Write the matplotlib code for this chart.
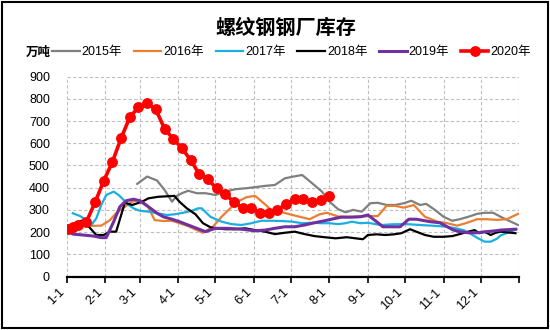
import matplotlib
matplotlib.use("Agg")
import matplotlib.pyplot as plt
from matplotlib.patches import Rectangle

plt.rcParams['font.family'] = ['Liberation Sans', 'Noto Sans CJK SC']

# 横轴：一年中的第几天（1月1日=0）
month_days = [0, 31, 59, 90, 120, 151, 181, 212, 243, 273, 304, 334, 365]
month_labels = ['1-1', '2-1', '3-1', '4-1', '5-1', '6-1', '7-1', '8-1',
                '9-1', '10-1', '11-1', '12-1', '']

# 2015年
d2015 = [57, 65, 73, 79, 85, 89, 93, 98, 105, 112, 120, 128, 136, 144, 152, 160,
         168, 176, 183, 190, 198, 206, 212, 219, 225, 231, 238, 245, 251, 258,
         265, 272, 278, 285, 290, 297, 304, 311, 317, 324, 331, 337, 344, 350, 364]
v2015 = [417, 450, 432, 390, 337, 363, 375, 386, 375, 375, 367, 382, 393, 397, 402, 408,
         412, 442, 450, 457, 420, 382, 337, 303, 289, 300, 292, 330, 332, 322,
         322, 330, 341, 322, 327, 300, 269, 251, 258, 269, 282, 287, 287, 269, 232]

# 2016年
d2016 = [0, 12, 19, 28, 35, 40, 47, 53, 59, 65, 69, 71, 78, 85, 91, 98, 105, 110,
         118, 125, 132, 138, 145, 152, 159, 165, 172, 180, 188, 196, 204, 210, 219,
         231, 245, 251, 258, 265, 272, 280, 289, 299, 307, 315, 323, 331, 339, 347,
         355, 364]
v2016 = [224, 232, 228, 229, 254, 285, 314, 337, 345, 322, 277, 254, 250, 251, 240, 227, 209, 197,
         224, 269, 307, 337, 357, 363, 330, 300, 292, 280, 269, 258, 280, 287, 270,
         269, 272, 272, 318, 318, 310, 322, 269, 247, 240, 229, 242, 258, 258, 255,
         258, 282]

# 2017年
d2017 = [5, 11, 16, 20, 24, 28, 32, 38, 42, 46, 50, 54, 59, 66, 73, 81, 87, 94, 101,
         106, 109, 116, 125, 133, 141, 149, 157, 165, 173, 182, 190, 198, 206, 212,
         219, 225, 230, 237, 243, 250, 255, 262, 274, 285, 297, 305, 313, 320, 325,
         331, 337, 342, 347, 350, 358, 363]
v2017 = [285, 272, 254, 232, 262, 322, 367, 382, 367, 345, 322, 307, 296, 292, 285, 277, 280, 287, 296,
         307, 307, 269, 247, 236, 232, 240, 251, 251, 250, 247, 240, 242, 240, 240,
         236, 240, 247, 240, 242, 235, 232, 235, 236, 232, 228, 225, 218, 209, 195,
         175, 157, 157, 170, 185, 202, 213]

# 2018年
d2018 = [1, 7, 12, 18, 24, 30, 35, 40, 47, 53, 61, 66, 74, 87, 91, 97, 104, 110, 116,
         120, 128, 136, 144, 152, 160, 168, 176, 184, 192, 200, 208, 217, 226, 233,
         239, 243, 250, 257, 264, 270, 277, 282, 289, 296, 304, 311, 317, 324, 329,
         333, 337, 342, 346, 350, 362]
v2018 = [217, 240, 251, 224, 187, 187, 202, 202, 332, 322, 337, 352, 359, 363, 337, 307, 280, 240, 222,
         217, 213, 213, 217, 209, 202, 191, 197, 202, 191, 182, 177, 172, 177, 172,
         168, 187, 190, 187, 190, 195, 213, 202, 187, 179, 179, 182, 191, 202, 209,
         195, 202, 187, 197, 202, 195]

# 2019年
d2019 = [0, 5, 13, 22, 28, 32, 38, 43, 48, 54, 59, 66, 73, 78, 85, 91, 98, 105, 112,
         120, 130, 141, 152, 160, 168, 176, 184, 192, 200, 208, 217, 221, 229, 237,
         243, 250, 255, 262, 269, 276, 282, 293, 301, 307, 312, 317, 324, 331, 339,
         346, 350, 362]
v2019 = [209, 191, 187, 182, 175, 175, 247, 314, 341, 348, 341, 314, 285, 269, 258, 247, 232, 217, 202,
         217, 217, 213, 206, 209, 217, 224, 224, 232, 242, 251, 262, 267, 267, 269,
         277, 247, 224, 224, 224, 258, 258, 247, 242, 224, 209, 202, 197, 197, 202,
         206, 209, 213]

# 2020年
d2020 = [1, 5, 9, 16, 23, 30, 37, 44, 51, 58, 65, 72, 79, 86, 93, 100, 107, 114,
         121, 128, 135, 142, 149, 156, 163, 170, 177, 184, 191, 198, 205, 212]
v2020 = [216, 222, 232, 246, 334, 431, 516, 623, 717, 762, 780, 752, 665, 620, 577, 525, 461, 437,
         397, 370, 336, 307, 308, 287, 288, 300, 326, 347, 347, 334, 345, 362]

fig = plt.figure(figsize=(5.5, 3.3), dpi=100)
ax = fig.add_axes([0.121, 0.162, 0.823, 0.606])

ax.plot(d2015, v2015, color='#7F7F7F', lw=1.6, label='2015年')
ax.plot(d2016, v2016, color='#ED7D31', lw=1.6, label='2016年')
ax.plot(d2017, v2017, color='#1AAFE0', lw=1.6, label='2017年')
ax.plot(d2018, v2018, color='#000000', lw=1.6, label='2018年')
ax.plot(d2019, v2019, color='#7030A0', lw=2.2, label='2019年')
ax.plot(d2020, v2020, color='#FF0000', lw=2.6, marker='o', ms=6.8, label='2020年')

ax.set_xlim(0, 365)
ax.set_ylim(0, 900)
ax.set_yticks(range(0, 1000, 100))
ax.set_xticks(month_days)
ax.set_xticklabels(month_labels, rotation=45, ha='right', va='top')

ax.grid(True, color='#BFBFBF', linestyle=(0, (3, 2)), linewidth=0.8)
ax.set_axisbelow(True)
for s in ['left', 'top', 'right']:
    ax.spines[s].set_visible(False)
ax.spines['bottom'].set_linewidth(1.6)
ax.tick_params(axis='y', length=0, pad=12, labelsize=9)
ax.tick_params(axis='x', length=4, width=1.2, pad=3, labelsize=9)

fig.text(0.52, 0.918, '螺纹钢钢厂库存', ha='center', va='center',
         fontsize=14.5, fontweight='bold', family=['Noto Sans CJK SC'])
fig.text(0.046, 0.842, '万吨', ha='left', va='center', fontsize=9,
         fontweight='bold', family=['Noto Sans CJK SC'])
fig.legend(loc='center', bbox_to_anchor=(0.53, 0.842), ncol=6, frameon=False,
           fontsize=9, handlelength=2.2, handletextpad=0.15, columnspacing=0.95,
           borderaxespad=0)

fig.patches.append(Rectangle((0.004, 0.006), 0.992, 0.988, transform=fig.transFigure,
                             fill=False, edgecolor='black', linewidth=1.5))

fig.savefig('out.png', dpi=100)
